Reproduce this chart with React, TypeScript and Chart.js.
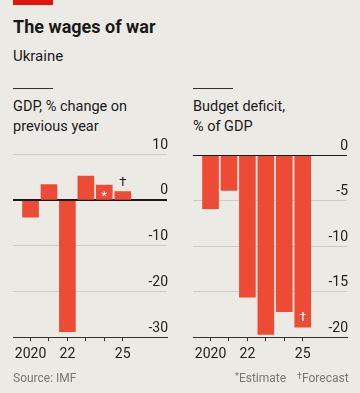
import React, { useEffect, useRef } from 'react';
import { Chart, registerables } from 'chart.js';

Chart.register(...registerables);
Chart.defaults.font.family = 'Roboto';

const years = [2020, 2021, 2022, 2023, 2024, 2025];
const gdpChange = [-3.8, 3.3, -28.8, 5.2, 3.2, 1.8];
const budgetDeficit = [-5.9, -3.9, -15.6, -19.7, -17.2, -18.9];
const gdpTicks = [10, 0, -10, -20, -30];
const deficitTicks = [0, -5, -10, -15, -20];
const xTickLabels: Record<number, string> = { 2020: '2020', 2022: '22', 2025: '25' };
const gdpMarks = ['', '', '', '', '*', '†'];
const gdpMarkPlace = ['', '', '', '', 'inside', 'outside'];
const deficitMarks = ['', '', '', '', '', '†'];
const deficitMarkPlace = ['', '', '', '', '', 'inside'];

const BAR = '#EE4B37';
const INK = '#1a1a1a';
const GRID = '#cfcdc6';

function makeConfig(values: number[], yTicks: number[], marks: string[], places: string[], topPad: number): any {
  const yMin = Math.min(...yTicks);
  const yMax = Math.max(...yTicks);
  const markPlugin = {
    id: 'marks',
    afterDatasetsDraw(chart: any) {
      const ctx = chart.ctx;
      const area = chart.chartArea;
      const ys = chart.scales.y;
      const y0 = Math.round(ys.getPixelForValue(0)) + 0.5;
      ctx.save();
      ctx.strokeStyle = INK;
      ctx.lineWidth = 1.2;
      ctx.beginPath();
      ctx.moveTo(area.left, y0);
      ctx.lineTo(area.right, y0);
      ctx.stroke();
      const meta = chart.getDatasetMeta(0);
      meta.data.forEach((bar: any, i: number) => {
        const m = marks[i];
        if (!m) return;
        const sign = values[i] >= 0 ? -1 : 1;
        const inside = places[i] === 'inside';
        const y = inside ? bar.y - sign * 9 : bar.y + sign * 9;
        ctx.fillStyle = inside ? '#ffffff' : INK;
        ctx.font = '13px Roboto';
        ctx.textAlign = 'center';
        ctx.textBaseline = 'middle';
        ctx.fillText(m, bar.x, m === '*' ? y + 3 : y);
      });
      ctx.restore();
    },
  };
  return {
    type: 'bar',
    data: {
      datasets: [
        {
          data: years.map((x, i) => ({ x, y: values[i] })),
          backgroundColor: BAR,
          borderWidth: 0,
          barThickness: 16,
        },
      ],
    },
    options: {
      responsive: false,
      animation: false,
      devicePixelRatio: 1,
      layout: { padding: { left: 13, right: 11, top: topPad, bottom: 12 } },
      plugins: { legend: { display: false }, tooltip: { enabled: false } },
      scales: {
        x: {
          type: 'linear',
          offset: false,
          min: 2019.05,
          max: 2027.4,
          afterBuildTicks: (s: any) => {
            s.ticks = years.map((v) => ({ value: v }));
          },
          ticks: {
            autoSkip: false,
            maxRotation: 0,
            padding: 5,
            color: '#222',
            font: { size: 14 },
            callback: (v: any) => xTickLabels[v] ?? '',
          },
          grid: { display: true, offset: false, drawOnChartArea: false, drawTicks: true, tickLength: 4, color: '#333' },
          border: { display: true, color: '#333', width: 1 },
        },
        y: {
          position: 'right',
          min: yMin,
          max: yMax,
          afterBuildTicks: (s: any) => {
            s.ticks = yTicks.map((v) => ({ value: v }));
          },
          ticks: {
            mirror: true,
            padding: 1,
            labelOffset: -9,
            color: '#222',
            font: { size: 14 },
            callback: (v: any) => String(v),
          },
          grid: {
            drawTicks: false,
            color: (c: any) => (c.tick && (c.tick.value === 0 || c.tick.value === yMin) ? INK : GRID),
            lineWidth: 1,
          },
          border: { display: false },
        },
      },
    },
    plugins: [markPlugin],
  };
}

function BarChart(props: { values: number[]; yTicks: number[]; marks: string[]; places: string[]; topPad: number; left: number }) {
  const ref = useRef<HTMLCanvasElement>(null);
  useEffect(() => {
    const chart = new Chart(ref.current as HTMLCanvasElement, makeConfig(props.values, props.yTicks, props.marks, props.places, props.topPad));
    return () => chart.destroy();
  }, []);
  return (
    <canvas
      ref={ref}
      width={180}
      height={250}
      style={{ position: 'absolute', left: props.left, top: 130, width: 180, height: 250 }}
    />
  );
}

const txt = (top: number, left: number, size: number, extra: any = {}) => ({
  position: 'absolute' as const,
  top,
  left,
  fontSize: size,
  lineHeight: 1,
  whiteSpace: 'nowrap' as const,
  color: INK,
  ...extra,
});

const sup = { fontSize: 9, verticalAlign: 3 };

export default function App() {
  return (
    <div
      style={{
        position: 'absolute',
        left: 0,
        top: 0,
        width: 360,
        height: 393,
        background: '#ECEAE4',
        fontFamily: 'Roboto, sans-serif',
        overflow: 'hidden',
      }}
    >
      <div style={{ position: 'absolute', left: 13, top: 0, width: 40, height: 5, background: '#E3120B' }} />
      <div style={txt(18, 13, 18, { fontWeight: 700 })}>The wages of war</div>
      <div style={txt(49, 13, 15)}>Ukraine</div>
      <div style={{ position: 'absolute', left: 13, top: 88, width: 40, height: 1, background: '#333' }} />
      <div style={{ position: 'absolute', left: 193, top: 88, width: 40, height: 1, background: '#333' }} />
      <div style={txt(96.5, 13, 14.5, { lineHeight: '20px' })}>
        GDP, % change on
        <br />
        previous year
      </div>
      <div style={txt(96.5, 193, 14.5, { lineHeight: '20px' })}>
        Budget deficit,
        <br />
        % of GDP
      </div>
      <BarChart values={gdpChange} yTicks={gdpTicks} marks={gdpMarks} places={gdpMarkPlace} topPad={24} left={0} />
      <BarChart values={budgetDeficit} yTicks={deficitTicks} marks={deficitMarks} places={deficitMarkPlace} topPad={25} left={180} />
      <div style={txt(371.6, 13, 12, { color: '#777' })}>Source: IMF</div>
      <div style={txt(371.6, 235, 12, { color: '#777' })}>
        <span style={sup}>*</span>Estimate
      </div>
      <div style={txt(371.6, 297, 12, { color: '#777' })}>
        <span style={sup}>†</span>Forecast
      </div>
    </div>
  );
}
